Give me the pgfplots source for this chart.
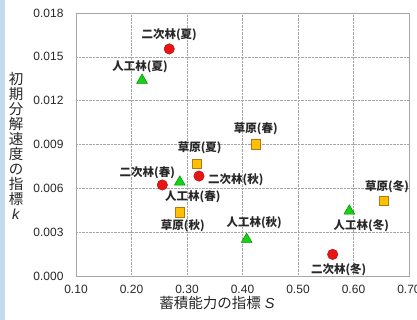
\documentclass[border=0pt]{standalone}
\usepackage{pgfplots}
\pgfplotsset{compat=1.18}
\usepackage{fontspec}
\setmainfont{Liberation Sans}
\newfontfamily\cjk{Noto Sans CJK JP}
\definecolor{redf}{RGB}{235,20,20}
\definecolor{rede}{RGB}{170,20,20}
\definecolor{grnf}{RGB}{20,210,20}
\definecolor{grne}{RGB}{0,140,0}
\definecolor{orgf}{RGB}{255,192,0}
\definecolor{orge}{RGB}{175,120,20}
\definecolor{txt}{RGB}{40,40,40}
\definecolor{strip}{RGB}{195,218,240}
\newcommand{\lab}[1]{{\cjk\bfseries\fontsize{11.5bp}{13bp}\selectfont #1}}
\begin{document}
\begin{tikzpicture}
\useasboundingbox (0,0) rectangle (417bp,320bp);
\fill[white] (0,0) rectangle (417bp,320bp);
\fill[strip] (0,0) rectangle (4.5bp,320bp);
\begin{axis}[
  at={(76bp,44bp)}, anchor=south west,
  scale only axis, width=333bp, height=263bp,
  xmin=0.1, xmax=0.7, ymin=0, ymax=0.018,
  xtick={0.1,0.2,...,0.7}, ytick={0,0.003,...,0.018},
  grid=major, major grid style={gray!70, densely dotted, line width=0.5pt},
  axis line style={gray!70, line width=0.8pt},
  major tick length=0pt,
  scaled ticks=false,
  /pgf/number format/assume math mode=true,
  xticklabel style={/pgf/number format/fixed, /pgf/number format/fixed zerofill, /pgf/number format/precision=2, font=\fontsize{12bp}{14bp}\selectfont, text=txt, yshift=-6bp},
  yticklabel style={/pgf/number format/fixed, /pgf/number format/fixed zerofill, /pgf/number format/precision=3, font=\fontsize{12bp}{14bp}\selectfont, text=txt, xshift=-9bp},
  clip=false,
]
% 二次林
\addplot[only marks, mark=*, mark size=5.2bp, mark options={fill=redf, draw=rede, line width=0.5pt}] coordinates {
(0.268,0.01554) (0.2555,0.00623) (0.3216,0.00684) (0.5625,0.00148)};
% 人工林
\addplot[only marks, mark=triangle*, mark size=6.2bp, mark options={fill=grnf, draw=grne, line width=0.5pt}] coordinates {
(0.219,0.01340) (0.287,0.00643) (0.4075,0.00251) (0.5925,0.00445)};
% 草原
\addplot[only marks, mark=square*, mark size=4.7bp, mark options={fill=orgf, draw=orge, line width=0.6pt}] coordinates {
(0.424,0.00901) (0.3175,0.00767) (0.287,0.00436) (0.655,0.00513)};
\begin{scope}[every node/.style={text=txt, inner sep=0pt}]
\node[yshift=14bp] at (axis cs:0.268,0.01554) {\lab{二次林(夏)}};
\node[yshift=13bp, xshift=-2bp] at (axis cs:0.219,0.01340) {\lab{人工林(夏)}};
\node[yshift=16bp] at (axis cs:0.424,0.00901) {\lab{草原(春)}};
\node[yshift=16bp, xshift=3bp] at (axis cs:0.3175,0.00767) {\lab{草原(夏)}};
\node[yshift=12bp, xshift=-15bp] at (axis cs:0.2555,0.00623) {\lab{二次林(春)}};
\node[yshift=-15bp, xshift=13bp] at (axis cs:0.287,0.00643) {\lab{人工林(春)}};
\node[yshift=-4bp, xshift=9bp, anchor=west] at (axis cs:0.3216,0.00684) {\lab{二次林(秋)}};
\node[yshift=-13bp, xshift=3bp] at (axis cs:0.287,0.00436) {\lab{草原(秋)}};
\node[yshift=16.5bp, xshift=7.5bp] at (axis cs:0.4075,0.00251) {\lab{人工林(秋)}};
\node[yshift=-15bp, xshift=12bp] at (axis cs:0.5925,0.00445) {\lab{人工林(冬)}};
\node[yshift=14bp, xshift=3bp] at (axis cs:0.655,0.00513) {\lab{草原(冬)}};
\node[yshift=-15bp, xshift=6bp] at (axis cs:0.5625,0.00148) {\lab{二次林(冬)}};
\end{scope}
\end{axis}
\node[text=txt, inner sep=0pt] at (217bp,17bp) {{\cjk\fontsize{14.5bp}{16bp}\selectfont 蓄積能力の指標}\fontsize{14.5bp}{16bp}\selectfont\ \textit{S}};
\node[text=txt, inner sep=0pt, align=center, font=\fontsize{14.5bp}{15bp}\selectfont] at (16bp,174bp) {\cjk 初\\\cjk 期\\\cjk 分\\\cjk 解\\\cjk 速\\\cjk 度\\\cjk の\\\cjk 指\\\cjk 標\\\textit{k}};
\end{tikzpicture}
\end{document}
